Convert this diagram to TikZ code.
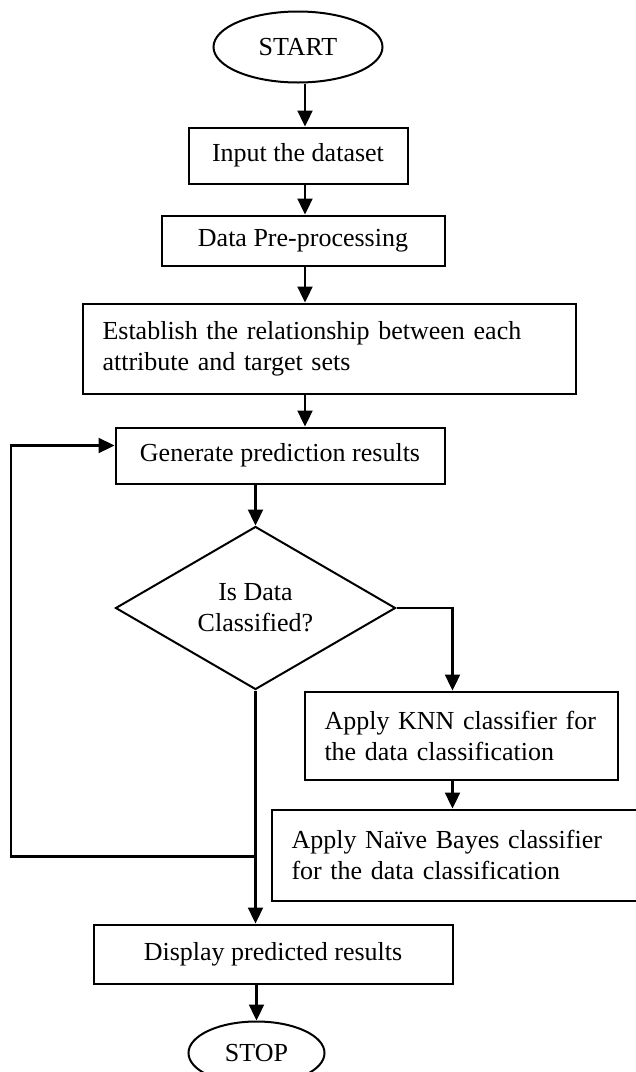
\documentclass[tikz,border=0pt]{standalone}
\usepackage{fontspec}
\setmainfont{Liberation Serif}
\usetikzlibrary{arrows.meta, positioning, shapes.geometric}

\begin{document}
\begin{tikzpicture}[line width=1.15pt]
			\useasboundingbox (0,0) rectangle (318pt,-536pt);
			\clip (0,0) rectangle (318pt,-536pt);
			\tikzset {->, >={Triangle[length=8pt, width=7.5pt]},
				every node/.style={font=\fontsize{13}{15.5}\selectfont},
				box/.style={draw, rectangle, line width=1pt, inner sep=0pt},
				term/.style={draw, ellipse, line width=1pt, inner sep=0pt},
				decision/.style={draw, diamond, line width=1pt, aspect=1.7, inner sep=1pt, align=center, minimum width=140pt, minimum height=81.5pt},
				note/.style={box, align=left, inner xsep=10pt, inner ysep=0pt} }
			
			\node[term, minimum width=84.5pt, minimum height=35.5pt] (start) at (149pt,-23.5pt) {START};
			\node[box, minimum width=109.5pt, minimum height=28pt, below=21.5pt of start] (input) {Input the dataset};
			\node[box, minimum width=141.5pt, minimum height=25pt, below=15pt of input, xshift=2.5pt] (prep) {Data Pre-processing};
			\node[note, text width=226.5pt, minimum height=45pt, below=18pt of prep, xshift=13pt] (rel) {Establish the relationship between each\\attribute and target sets};
			\node[box, minimum width=164.5pt, minimum height=28pt, below=16pt of rel, xshift=-24.5pt] (gen) {Generate prediction results};
			\node[decision, below=20.5pt of gen, xshift=-12.25pt] (check) {Is Data\\Classified?};
			\node[note, text width=136.5pt, minimum height=44pt, below right=0pt and 24pt of check.south] (knn) {Apply KNN classifier for\\the data classification};
			\node[note, text width=166.5pt, minimum height=45.5pt, below=14pt of knn.south west, anchor=north west, xshift=-16.5pt] (nb) {Apply Naïve Bayes classifier\\for the data classification};
			\node[box, minimum width=179.5pt, minimum height=29.5pt, below=116.5pt of check, xshift=8.75pt] (disp) {Display predicted results};
			\node[term, minimum width=68pt, minimum height=31.5pt, below=18pt of disp, xshift=-8.25pt] (stop) {STOP};
			
			% arrow columns and the loop back
			\coordinate (axis) at (152.5pt,0);
			\coordinate (side) at (226.25pt,0);
			\coordinate[below=83pt of check.south] (back);
			\coordinate (rim) at (5.5pt,0);
			
			\draw (start.south -| axis) -- (input.north -| axis);
			\draw (input.south -| axis) -- (prep.north -| axis);
			\draw (prep.south -| axis) -- (rel.north -| axis);
			\draw (rel.south -| axis) -- (gen.north -| axis);
			\draw (gen.south -| check.north) -- (check.north);
			\draw (check.east) -| (knn.north -| side);
			\draw (knn.south -| side) -- (nb.north -| side);
			\draw (check.south) -- (check.south |- disp.north);
			\draw (disp.south -| stop.north) -- (stop.north);
			\draw (back) -- (back -| rim) |- ([yshift=5pt]gen.west);
		\end{tikzpicture}
\end{document}
